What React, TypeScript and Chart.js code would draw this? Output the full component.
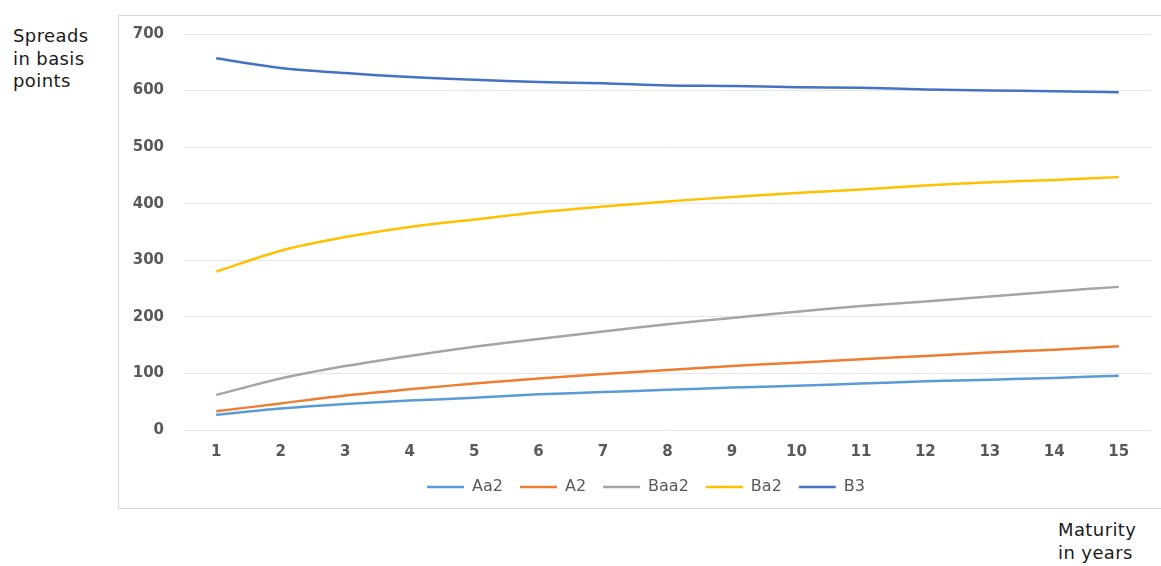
import React, { useEffect, useRef } from "react";
import { Chart, registerables } from "chart.js";

Chart.register(...registerables);

// Maturities (years) on the category axis
const maturities = ["1", "2", "3", "4", "5", "6", "7", "8", "9", "10", "11", "12", "13", "14", "15"];

// Credit spreads in basis points by rating
const aa2 = [27, 38, 46, 52, 57, 63, 67, 71, 75, 78, 82, 86, 89, 92, 96];
const a2 = [33, 47, 61, 72, 82, 91, 99, 106, 113, 119, 125, 131, 137, 142, 148];
const baa2 = [62, 91, 113, 131, 147, 161, 174, 187, 198, 209, 219, 227, 236, 245, 253];
const ba2 = [280, 317, 341, 359, 372, 385, 395, 404, 412, 419, 425, 432, 438, 442, 447];
const b3 = [657, 640, 631, 624, 619, 615, 613, 609, 608, 606, 605, 602, 600, 599, 597];

const seriesNames = ["Aa2", "A2", "Baa2", "Ba2", "B3"];
const seriesColors = ["#5B9BD5", "#ED7D31", "#A5A5A5", "#FFC000", "#4472C4"];

const yMin = 0;
const yMax = 700;
const yStep = 100;

const TICK_COLOR = "#595959";
const FONT = "'DejaVu Sans', Verdana, sans-serif";

// Nudges the bottom legend a little to the right of the canvas centre
const legendShift = {
  id: "legendShift",
  afterLayout(chart: any) {
    if (chart.legend) chart.legend.left += 22;
  },
};

export default function App() {
  const canvasRef = useRef<HTMLCanvasElement | null>(null);

  useEffect(() => {
    const canvas = canvasRef.current;
    if (!canvas) return;
    const values = [aa2, a2, baa2, ba2, b3];
    const chart = new Chart(canvas, {
      type: "line",
      data: {
        labels: maturities,
        datasets: values.map((v, i) => ({
          label: seriesNames[i],
          data: v,
          borderColor: seriesColors[i],
          backgroundColor: seriesColors[i],
          borderWidth: 2.5,
          pointRadius: 0,
          pointStyle: "line",
          tension: 0.3,
          fill: false,
        })),
      },
      options: {
        animation: false,
        responsive: false,
        maintainAspectRatio: false,
        layout: { padding: { top: 18, right: 10, bottom: 3, left: 0 } },
        plugins: {
          tooltip: { enabled: false },
          legend: {
            display: true,
            position: "bottom",
            labels: {
              usePointStyle: true,
              pointStyle: "line",
              pointStyleWidth: 37,
              color: TICK_COLOR,
              font: { family: FONT, size: 16 },
              padding: 17,
            },
          },
        },
        scales: {
          x: {
            offset: true,
            grid: { display: false, drawTicks: false },
            border: { display: false },
            ticks: {
              color: TICK_COLOR,
              font: { family: FONT, size: 15, weight: "bold" },
              padding: 13,
              maxRotation: 0,
            },
            afterFit: (scale: any) => {
              scale.height = 32;
            },
          },
          y: {
            min: yMin,
            max: yMax,
            grid: { color: "#e6e6e6", lineWidth: 1, drawTicks: false },
            border: { display: false },
            ticks: {
              stepSize: yStep,
              color: TICK_COLOR,
              font: { family: FONT, size: 15, weight: "bold" },
              padding: 20,
            },
            afterFit: (scale: any) => {
              scale.width = 65;
              scale.paddingTop = 0;
              scale.paddingBottom = 0;
            },
          },
        },
      },
      plugins: [legendShift],
    });
    return () => chart.destroy();
  }, []);

  const sideText: React.CSSProperties = {
    position: "absolute",
    fontFamily: FONT,
    fontSize: 18,
    letterSpacing: "0.4px",
    lineHeight: "22.5px",
    color: "#1a1a1a",
  };

  return (
    <div style={{ position: "absolute", left: 0, top: 0, width: 1161, height: 566, background: "#fff", overflow: "hidden" }}>
      <div style={{ ...sideText, left: 13, top: 25 }}>
        Spreads
        <br />
        in basis
        <br />
        points
      </div>
      <div
        style={{
          position: "absolute",
          left: 118,
          top: 15,
          width: 1043,
          height: 492,
          borderTop: "1px solid #d9d9d9",
          borderLeft: "1px solid #d9d9d9",
          borderBottom: "1px solid #d9d9d9",
        }}
      >
        <canvas ref={canvasRef} width={1042} height={492} style={{ display: "block" }} />
      </div>
      <div style={{ ...sideText, left: 1058, top: 519 }}>
        Maturity
        <br />
        in years
      </div>
    </div>
  );
}
